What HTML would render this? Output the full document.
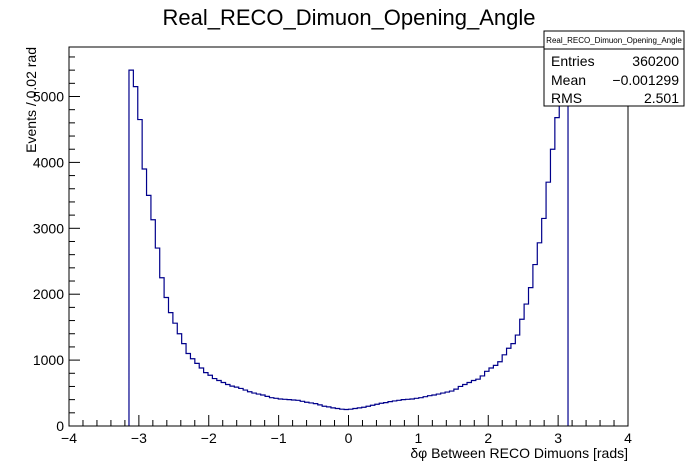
<!DOCTYPE html>
<html><head><meta charset="utf-8"><style>
body{margin:0;background:#fff;}
svg{display:block;font-family:"Liberation Sans",sans-serif;}
</style></head><body>
<svg id="c" width="698" height="474">
<rect width="698" height="474" fill="#fff"/>
<text x="349" y="25" text-anchor="middle" font-size="22">Real_RECO_Dimuon_Opening_Angle</text>
<g id="axes"></g>
<path id="hist" fill="none" stroke="#00008b" stroke-width="1.2"/>
<rect x="69" y="47" width="559" height="379" fill="none" stroke="#000" stroke-width="1"/>
<text x="628" y="458" text-anchor="end" font-size="14">δφ Between RECO Dimuons [rads]</text>
<text transform="translate(36,47) rotate(-90)" text-anchor="end" font-size="14">Events / 0.02 rad</text>
<g>
<rect x="544" y="31" width="140" height="75" fill="#fff" stroke="#000"/>
<line x1="544" y1="49" x2="684" y2="49" stroke="#000"/>
<text x="614" y="43" text-anchor="middle" font-size="8">Real_RECO_Dimuon_Opening_Angle</text>
<text x="551" y="66" font-size="14">Entries</text><text x="679" y="66" text-anchor="end" font-size="14">360200</text>
<text x="551" y="85" font-size="14">Mean</text><text x="679" y="85" text-anchor="end" font-size="14">−0.001299</text>
<text x="551" y="103" font-size="14">RMS</text><text x="679" y="103" text-anchor="end" font-size="14">2.501</text>
</g>
</svg>
<script>
const binLow = -Math.PI;
const binWidth = Math.PI/50;
const counts = [5400,5150,4650,3900,3500,3130,2700,2250,1950,1720,1560,1400,1250,1100,1020,950,880,810,770,720,690,660,630,605,590,570,545,520,500,485,470,450,430,420,410,405,400,395,390,375,360,350,340,320,300,290,275,265,255,250,255,265,275,285,300,315,330,345,355,370,380,390,400,405,410,420,430,445,460,470,485,500,515,530,560,600,630,660,690,710,760,830,880,920,975,1080,1180,1250,1380,1620,1850,2100,2450,2780,3150,3700,4200,4680,5150,5700];
const xTicks = [-4,-3,-2,-1,0,1,2,3,4];
const yTicks = [0,1000,2000,3000,4000,5000];
const X0=69,X1=628,Y0=426,Y1=47;
function sx(v){return X0+(v+4)/8*(X1-X0);}
function sy(v){return Y0-v*0.0659;}
const ns="http://www.w3.org/2000/svg";
const ax=document.getElementById('axes');
function mk(t,a){const e=document.createElementNS(ns,t);for(const k in a)e.setAttribute(k,a[k]);ax.appendChild(e);return e;}
for(let i=0;i<=40;i++){const v=-4+i*0.2;const maj=i%5===0;
 const l=mk('line',{x1:sx(v),x2:sx(v),y1:Y0,y2:Y0-(maj?11:6),stroke:'#000'});
 
 }
xTicks.forEach(v=>{const t=mk('text',{x:sx(v),y:443,'text-anchor':'middle','font-size':14});
 t.textContent=v<0?'−'+Math.abs(v):String(v);
 
 });
for(let v=0;v<=5600;v+=200){const maj=v%1000===0;
 const l=mk('line',{x1:X0,x2:X0+(maj?11:6),y1:sy(v),y2:sy(v),stroke:'#000'});
 
 }
yTicks.forEach(v=>{const t=mk('text',{x:64,y:sy(v)+5,'text-anchor':'end','font-size':14});
 t.textContent=String(v);
 
 });
let d='M'+sx(binLow)+','+Y0;
counts.forEach((c,i)=>{const a=binLow+i*binWidth,b=a+binWidth;d+=' L'+sx(a)+','+sy(c)+' L'+sx(b)+','+sy(c);});
d+=' L'+sx(binLow+counts.length*binWidth)+','+Y0;
document.getElementById('hist').setAttribute('d',d);
</script>
</body></html>
